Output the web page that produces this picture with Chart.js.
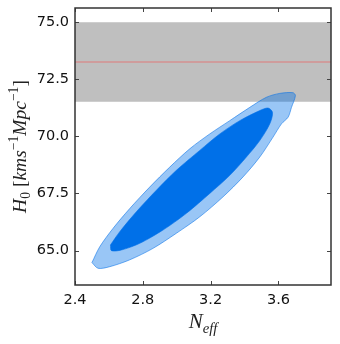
<!DOCTYPE html>
<html>
<head>
<meta charset="utf-8">
<script src="https://cdn.jsdelivr.net/npm/chart.js@4/dist/chart.umd.min.js"></script>
<style>
  html, body { margin: 0; padding: 0; background: #ffffff; }
  #wrap { width: 340px; height: 344px; position: relative; }
</style>
</head>
<body>
<div id="wrap"><canvas id="chart"></canvas></div>
<script>
  // axis ticks
  const X_TICKS = [2.4, 2.8, 3.2, 3.6];
  const Y_TICKS = [65.0, 67.5, 70.0, 72.5, 75.0];

  // local H0 measurement band (mean, low, high)
  const H0_LOCAL = [73.24];
  const BAND_Y = [71.5, 74.98];

  // 2-sigma contour
  const OUTER_N = [2.500, 2.546, 2.624, 2.723, 2.841, 2.959, 3.077, 3.195, 3.313, 3.431, 3.529, 3.608, 3.686, 3.700,
                   3.677, 3.657, 3.618, 3.568, 3.490, 3.391, 3.273, 3.136, 2.998, 2.860, 2.723, 2.605, 2.536, 2.500];
  const OUTER_H = [64.48, 65.17, 65.97, 66.84, 67.78, 68.65, 69.45, 70.10, 70.68, 71.26, 71.70, 71.87, 71.90, 71.77,
                   71.26, 70.83, 70.54, 69.96, 69.09, 68.22, 67.35, 66.48, 65.76, 65.10, 64.60, 64.30, 64.23, 64.48];

  // 1-sigma contour
  const INNER_N = [2.609, 2.664, 2.762, 2.880, 2.998, 3.136, 3.254, 3.372, 3.490, 3.539, 3.565, 3.549, 3.490, 3.411,
                   3.313, 3.195, 3.057, 2.919, 2.782, 2.674, 2.615, 2.609];
  const INNER_H = [65.25, 65.83, 66.70, 67.64, 68.51, 69.38, 70.10, 70.68, 71.12, 71.23, 71.04, 70.54, 69.81, 69.09,
                   68.29, 67.50, 66.63, 65.90, 65.32, 65.03, 65.00, 65.25];

  const X_MIN = 2.4, X_MAX = 3.91;
  const Y_MIN = 63.5, Y_MAX = 75.6;

  const toPoints = (xs, ys) => xs.map((x, i) => ({ x: x, y: ys[i] }));

  const bandPoints = [
    { x: X_MIN, y: BAND_Y[1] }, { x: X_MAX, y: BAND_Y[1] },
    { x: X_MAX, y: BAND_Y[0] }, { x: X_MIN, y: BAND_Y[0] }
  ];
  const meanLine = [{ x: X_MIN, y: H0_LOCAL[0] }, { x: X_MAX, y: H0_LOCAL[0] }];

  // draws text made of pieces: [text, italic, shift] (shift: 0 base, -1 sub, 1 sup)
  function drawRich(ctx, parts, size) {
    const fam = '"Liberation Serif", "DejaVu Serif", serif';
    const fontFor = (p) => {
      const s = p[2] === 0 ? size : size * 0.7;
      return (p[1] ? 'italic ' : '') + s + 'px ' + fam;
    };
    let total = 0;
    parts.forEach((p) => { ctx.font = fontFor(p); total += ctx.measureText(p[0]).width; });
    let x = -total / 2;
    ctx.textBaseline = 'alphabetic';
    ctx.textAlign = 'left';
    parts.forEach((p) => {
      ctx.font = fontFor(p);
      const dy = p[2] === -1 ? size * 0.22 : (p[2] === 1 ? -size * 0.42 : 0);
      ctx.fillText(p[0], x, dy);
      x += ctx.measureText(p[0]).width;
    });
  }

  const framePlugin = {
    id: 'frame',
    afterDatasetsDraw(chart) {
      const { ctx, chartArea: a, scales } = chart;
      ctx.save();
      ctx.strokeStyle = '#444444';
      ctx.lineWidth = 1;
      ctx.beginPath();
      X_TICKS.forEach((v) => {
        const px = Math.round(scales.x.getPixelForValue(v)) + 0.5;
        ctx.moveTo(px, a.bottom); ctx.lineTo(px, a.bottom - 4);
        ctx.moveTo(px, a.top); ctx.lineTo(px, a.top + 4);
      });
      Y_TICKS.forEach((v) => {
        const py = Math.round(scales.y.getPixelForValue(v)) + 0.5;
        ctx.moveTo(a.left, py); ctx.lineTo(a.left + 4, py);
        ctx.moveTo(a.right, py); ctx.lineTo(a.right - 4, py);
      });
      ctx.stroke();
      ctx.strokeStyle = '#333333';
      ctx.lineWidth = 1.5;
      ctx.strokeRect(a.left, a.top, a.right - a.left, a.bottom - a.top);
      ctx.restore();
    },
    afterDraw(chart) {
      const { ctx, chartArea: a } = chart;
      ctx.save();
      ctx.fillStyle = '#222222';
      ctx.translate((a.left + a.right) / 2, 328);
      drawRich(ctx, [['N', true, 0], ['eff', true, -1]], 21);
      ctx.restore();

      ctx.save();
      ctx.fillStyle = '#222222';
      ctx.translate(26, (a.top + a.bottom) / 2);
      ctx.rotate(-Math.PI / 2);
      drawRich(ctx, [
        ['H', true, 0], ['0', false, -1], [' [', false, 0], ['kms', true, 0], ['\u22121', false, 1],
        ['Mpc', true, 0], ['\u22121', false, 1], [']', false, 0]
      ], 19.5);
      ctx.restore();
    }
  };

  new Chart(document.getElementById('chart'), {
    type: 'scatter',
    data: {
      datasets: [
        {
          data: toPoints(INNER_N, INNER_H),
          showLine: true,
          fill: 'shape',
          backgroundColor: '#0070e8',
          borderColor: 'rgba(0, 112, 232, 0.6)',
          borderWidth: 1,
          tension: 0.3,
          pointRadius: 0,
          order: 0
        },
        {
          data: toPoints(OUTER_N, OUTER_H),
          showLine: true,
          fill: 'shape',
          backgroundColor: 'rgba(0, 112, 232, 0.4)',
          borderColor: 'rgba(0, 112, 232, 0.55)',
          borderWidth: 1,
          tension: 0.3,
          pointRadius: 0,
          order: 1
        },
        {
          data: meanLine,
          showLine: true,
          fill: false,
          borderColor: 'rgba(255, 60, 60, 0.35)',
          borderWidth: 1.5,
          pointRadius: 0,
          order: 2
        },
        {
          data: bandPoints,
          showLine: true,
          fill: 'shape',
          backgroundColor: '#bfbfbf',
          borderWidth: 0,
          pointRadius: 0,
          order: 3
        }
      ]
    },
    options: {
      responsive: true,
      maintainAspectRatio: false,
      animation: false,
      events: [],
      layout: { padding: { left: 0, top: 8, right: 9, bottom: 0 } },
      scales: {
        x: {
          type: 'linear',
          min: X_MIN,
          max: X_MAX,
          afterBuildTicks: (s) => { s.ticks = X_TICKS.map((v) => ({ value: v })); },
          afterFit: (s) => { s.height = 59; s.paddingLeft = 0; s.paddingRight = 0; },
          grid: { display: false, drawTicks: false },
          border: { display: false },
          ticks: {
            padding: 7,
            color: '#111111',
            maxRotation: 0,
            font: { family: '"DejaVu Sans"', size: 14.5 },
            callback: (v) => Number(v).toFixed(1)
          }
        },
        y: {
          type: 'linear',
          min: Y_MIN,
          max: Y_MAX,
          afterBuildTicks: (s) => { s.ticks = Y_TICKS.map((v) => ({ value: v })); },
          afterFit: (s) => { s.width = 75; s.paddingTop = 0; s.paddingBottom = 0; },
          grid: { display: false, drawTicks: false },
          border: { display: false },
          ticks: {
            padding: 6,
            color: '#111111',
            font: { family: '"DejaVu Sans"', size: 14.5 },
            callback: (v) => Number(v).toFixed(1)
          }
        }
      },
      plugins: {
        legend: { display: false },
        tooltip: { enabled: false }
      }
    },
    plugins: [framePlugin]
  });
</script>
</body>
</html>
